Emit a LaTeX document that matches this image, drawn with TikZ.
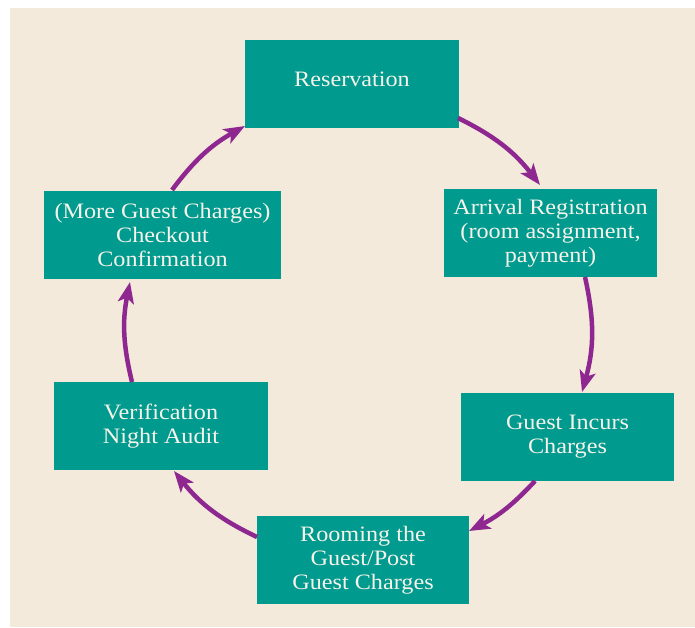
\documentclass[tikz,border=0pt]{standalone}
\usepackage{fontspec}
\setmainfont{Liberation Serif}[FakeStretch=1.1]
\usetikzlibrary{arrows.meta}
\definecolor{bgbeige}{HTML}{F3EADC}
\definecolor{tealbox}{HTML}{009A8E}
\definecolor{arrpurple}{HTML}{8E278F}
\definecolor{boxtext}{HTML}{F6F3EA}
\tikzset{
  stagebox/.style={fill=tealbox, draw=none, text=boxtext, align=center,
    minimum height=88pt, inner sep=0pt,
    font=\fontsize{22}{24}\selectfont},
  cyclearrow/.style={draw=arrpurple, line width=4.5pt,
    -{Stealth[length=21pt,width=16pt,inset=5pt]}}
}
\begin{document}
\begin{tikzpicture}[x=1pt,y=1pt]
\useasboundingbox (0,0) rectangle (695,627);
\fill[white] (0,0) rectangle (695,627);
\fill[bgbeige] (10,0) rectangle (695,619);

\node[stagebox, minimum width=214pt, text depth=10pt] (res) at (352,542.5) {Reservation};
\node[stagebox, minimum width=213pt] (arr) at (550.5,394) {Arrival Registration\\(room assignment,\\payment)};
\node[stagebox, minimum width=213pt] (inc) at (567.5,190) {Guest Incurs\\Charges};
\node[stagebox, minimum width=212pt] (room) at (363,67) {Rooming the\\Guest/Post\\Guest Charges};
\node[stagebox, minimum width=214pt] (ver) at (161,201) {Verification\\Night Audit};
\node[stagebox, minimum width=237pt] (chk) at (162.5,392) {(More Guest Charges)\\Checkout\\Confirmation};

\coordinate (s1) at (458,509); \coordinate (e1) at (540,442);
\coordinate (s2) at (585,350); \coordinate (e2) at (582,235);
\coordinate (s3) at (535,146); \coordinate (e3) at (469,96);
\coordinate (s4) at (257,90);  \coordinate (e4) at (174,156);
\coordinate (s5) at (132,245); \coordinate (e5) at (130,345);
\coordinate (s6) at (172,437); \coordinate (e6) at (245,501);

\draw[cyclearrow] (s1) to[bend left=13] (e1);
\draw[cyclearrow] (s2) to[bend left=14] (e2);
\draw[cyclearrow] (s3) to[bend left=10] (e3);
\draw[cyclearrow] (s4) to[bend left=13] (e4);
\draw[cyclearrow] (s5) to[bend left=12.5] (e5);
\draw[cyclearrow] (s6) to[bend left=12] (e6);
\end{tikzpicture}
\end{document}
